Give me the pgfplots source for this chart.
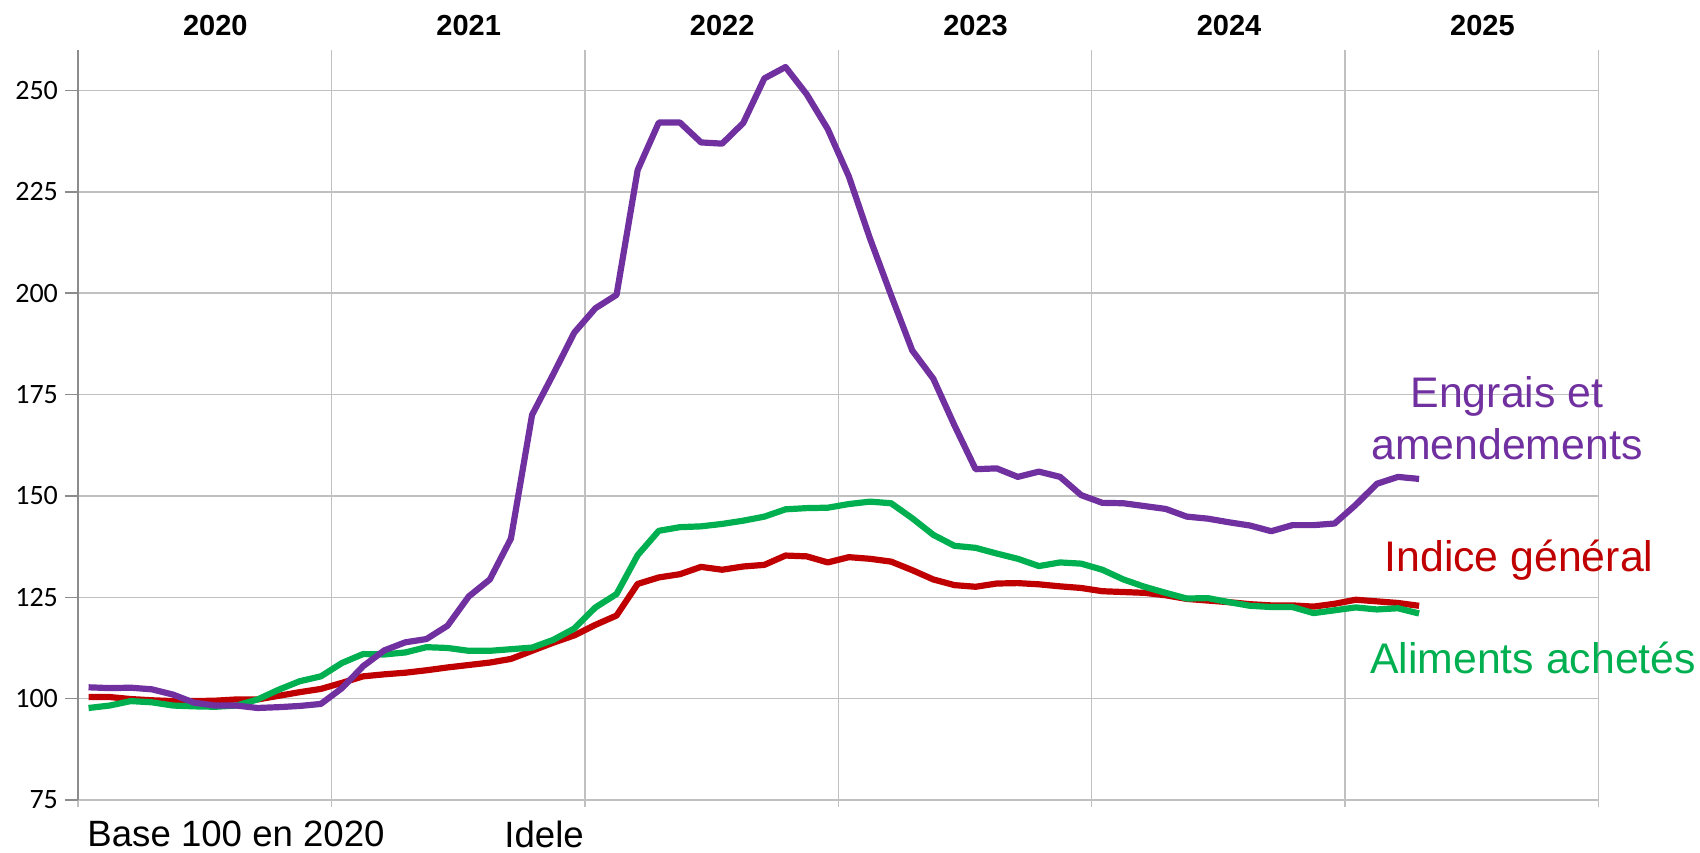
\documentclass[border=0pt]{standalone}
\usepackage{fontspec}
\setmainfont{Liberation Sans}
\newfontfamily\carlito{Carlito}
\usepackage{pgfplots}
\usepackage{pgfplotstable}
\pgfplotsset{compat=1.18}

\definecolor{engrais}{HTML}{7030A0}
\definecolor{indice}{HTML}{C00000}
\definecolor{aliments}{HTML}{00B050}
\definecolor{grille}{HTML}{C0C0C0}
\definecolor{axe}{HTML}{8C8C8C}

% monthly indices, base 100 in 2020; m = month (Jan 2020 = 0.5)
\pgfplotstableread{
m    engrais indice aliments
0.5  102.8 100.4 97.7
1.5  102.6 100.4 98.3
2.5  102.7 99.9  99.4
3.5  102.3 99.6  99.1
4.5  101.0 99.4  98.3
5.5  99.0  99.4  98.1
6.5  98.3  99.5  98.0
7.5  98.3  99.8  98.3
8.5  97.7  99.8  99.8
9.5  97.9  100.7 102.2
10.5 98.2  101.6 104.3
11.5 98.7  102.4 105.5
12.5 102.6 103.9 108.8
13.5 108.0 105.5 111.0
14.5 111.9 106.0 110.9
15.5 113.9 106.4 111.4
16.5 114.7 107.0 112.7
17.5 118.0 107.7 112.5
18.5 125.2 108.3 111.8
19.5 129.4 108.9 111.8
20.5 139.5 109.8 112.2
21.5 170.0 111.8 112.6
22.5 180.0 113.8 114.5
23.5 190.3 115.6 117.3
24.5 196.3 118.2 122.5
25.5 199.6 120.5 125.8
26.5 230.4 128.3 135.4
27.5 242.1 129.9 141.4
28.5 242.1 130.7 142.3
29.5 237.2 132.5 142.5
30.5 236.9 131.8 143.1
31.5 242.0 132.6 143.9
32.5 253.0 133.0 144.9
33.5 255.8 135.3 146.7
34.5 249.1 135.1 147.0
35.5 240.5 133.6 147.1
36.5 228.8 134.9 148.0
37.5 213.5 134.5 148.6
38.5 199.5 133.8 148.2
39.5 185.9 131.7 144.5
40.5 178.9 129.4 140.4
41.5 167.4 128.0 137.7
42.5 156.6 127.6 137.2
43.5 156.8 128.4 135.8
44.5 154.7 128.5 134.5
45.5 156.0 128.2 132.7
46.5 154.7 127.7 133.6
47.5 150.2 127.3 133.3
48.5 148.3 126.5 131.8
49.5 148.2 126.3 129.4
50.5 147.5 126.1 127.6
51.5 146.8 125.5 126.1
52.5 144.9 124.6 124.7
53.5 144.4 124.2 124.8
54.5 143.5 123.8 123.8
55.5 142.7 123.3 122.9
56.5 141.3 123.0 122.6
57.5 142.8 123.0 122.6
58.5 142.8 122.7 121.1
59.5 143.2 123.4 121.8
60.5 147.8 124.4 122.5
61.5 153.0 124.0 122.0
62.5 154.7 123.6 122.3
63.5 154.2 122.9 121.0
}\indices

\begin{document}
\begin{tikzpicture}
\begin{axis}[
    scale only axis,
    width=760.3pt, height=375pt,
    xmin=0, xmax=72,
    ymin=75, ymax=260,
    axis lines=left,
    axis line style={-},
    x axis line style={draw=grille, line width=0.75pt},
    y axis line style={draw=axe, line width=1.1pt},
    xtick={0,12,...,72},
    xticklabels={},
    ytick={75,100,...,250},
    grid=major,
    grid style={draw=grille, line width=0.75pt},
    tick align=outside,
    major tick length=6.5pt,
    xtick style={draw=grille, line width=0.75pt, yshift=3pt},
    ytick style={draw=axe, line width=0.75pt},
    /pgf/number format/assume math mode=true,
    yticklabel style={font=\carlito\fontsize{14}{15}\selectfont, anchor=east},
    clip=false,
]
\addplot[indice, line width=3.1pt, line join=round, mark=none] table[x=m, y=indice] {\indices};
\addplot[aliments, line width=3.1pt, line join=round, mark=none] table[x=m, y=aliments] {\indices};
\addplot[engrais, line width=3.1pt, line join=round, mark=none] table[x=m, y=engrais] {\indices};

\coordinate (SW) at (rel axis cs:0,0);
\coordinate (NE) at (rel axis cs:1,1);

\node[font=\bfseries\fontsize{14.5}{16}\selectfont, yshift=12pt] at (axis cs:6.5,260) {2020};
\node[font=\bfseries\fontsize{14.5}{16}\selectfont, yshift=12pt] at (axis cs:18.5,260) {2021};
\node[font=\bfseries\fontsize{14.5}{16}\selectfont, yshift=12pt] at (axis cs:30.5,260) {2022};
\node[font=\bfseries\fontsize{14.5}{16}\selectfont, yshift=12pt] at (axis cs:42.5,260) {2023};
\node[font=\bfseries\fontsize{14.5}{16}\selectfont, yshift=12pt] at (axis cs:54.5,260) {2024};
\node[font=\bfseries\fontsize{14.5}{16}\selectfont, yshift=12pt] at (axis cs:66.5,260) {2025};

\node[font=\fontsize{21.4}{26}\selectfont, text=engrais, align=center] at (axis cs:67.66,169.1) {Engrais et\\amendements};
\node[font=\fontsize{21.4}{26}\selectfont, text=indice] at (axis cs:68.23,134.1) {Indice général};
\node[font=\fontsize{21.4}{26}\selectfont, text=aliments] at (axis cs:68.9,110.1) {Aliments achetés};

\node[font=\fontsize{18.3}{20}\selectfont, anchor=west, inner sep=0pt] at (axis cs:0.43,66.6) {Base 100 en 2020};
\node[font=\fontsize{18.3}{20}\selectfont, anchor=west, inner sep=0pt] at (axis cs:20.17,66.6) {Idele};
\end{axis}
\pgfresetboundingbox
\path ([shift={(-39pt,-26pt)}]SW) rectangle ([shift={(50.7pt,25pt)}]NE);
\end{tikzpicture}
\end{document}
